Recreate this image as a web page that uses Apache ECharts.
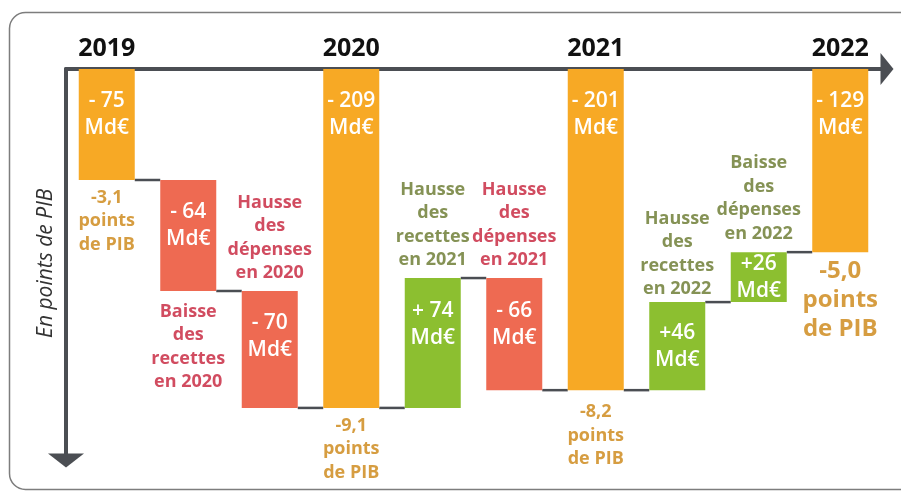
<!DOCTYPE html>
<html>
<head>
<meta charset="utf-8">
<script src="https://cdn.jsdelivr.net/npm/echarts@6/dist/echarts.min.js"></script>
<style>
  html, body { margin: 0; padding: 0; background: #fff; }
  #chart { width: 901px; height: 493px; }
</style>
</head>
<body>
<div id="chart"></div>
<script>
// x axis ticks (only the yearly totals carry a year)
const years = ['2019', '', '', '2020', '', '', '2021', '', '', '2022'];
// kind of each step
const kinds = ['total', 'red', 'red', 'total', 'green', 'red', 'total', 'green', 'green', 'total'];
// depth below the axis after each step, in points de PIB (as drawn)
const levels = [3.0, 6.0, 9.16, 9.16, 5.65, 8.68, 8.68, 6.30, 4.95, 4.95];
// amounts written inside the bars (Md€)
const amounts = ['- 75', '- 64', '- 70', '- 209', '+ 74', '- 66', '- 201', '+46', '+26', '- 129'];
// texts around the bars
const notes = [
  '-3,1\npoints\nde PIB',
  'Baisse\ndes\nrecettes\nen 2020',
  'Hausse\ndes\ndépenses\nen 2020',
  '-9,1\npoints\nde PIB',
  'Hausse\ndes\nrecettes\nen 2021',
  'Hausse\ndes\ndépenses\nen 2021',
  '-8,2\npoints\nde PIB',
  'Hausse\ndes\nrecettes\nen 2022',
  'Baisse\ndes\ndépenses\nen 2022',
  '-5,0\npoints\nde PIB'
];

// styling
const noteSide = ['below', 'below', 'above', 'below', 'above', 'above', 'below', 'above', 'above', 'below'];
const noteGap = [6, 9, 6, 6, 6, 6, 10, 1, 7, 5];
const innerPos = ['insideTop', 'insideTop', 'insideTop', 'insideTop', 'insideTop', 'insideTop', 'insideTop', 'inside', 'inside', 'insideTop'];
const barColor = { total: '#f7a925', red: '#ee6a52', green: '#8cbf30' };
const noteColor = { total: '#cc8412', red: '#c61f38', green: '#66772a' };
const axisColor = '#4b4e53';
const FONT = '"Open Sans", "DejaVu Sans", sans-serif';
const BAR_W = 56;

const tops = [], bottoms = [];
levels.forEach(function (lv, i) {
  if (kinds[i] === 'total') {
    tops.push(0);
    bottoms.push(lv);
  } else {
    tops.push(Math.min(levels[i - 1], lv));
    bottoms.push(Math.max(levels[i - 1], lv));
  }
});

const chart = echarts.init(document.getElementById('chart'), null, { renderer: 'canvas' });

const option = {
  animation: false,
  backgroundColor: '#fff',
  textStyle: { fontFamily: FONT },
  graphic: [{
    type: 'rect',
    silent: true,
    shape: { x: 9.5, y: 12.5, width: 930, height: 477, r: 16 },
    style: { fill: 'none', stroke: '#7d7d7d', lineWidth: 1.5 }
  }],
  grid: { left: 66, top: 69, right: 20, bottom: 35.5 },
  xAxis: {
    type: 'category',
    data: years,
    position: 'top',
    axisLine: {
      onZero: false,
      lineStyle: { color: axisColor, width: 4 },
      symbol: ['none', 'triangle'],
      symbolSize: [32, 13],
      symbolOffset: [0, 6]
    },
    axisTick: { show: false },
    axisLabel: {
      interval: 0,
      margin: 8,
      color: '#111',
      fontSize: 25,
      fontWeight: 'bold',
      fontFamily: FONT
    }
  },
  yAxis: {
    type: 'value',
    min: -10.5,
    max: 0,
    name: 'En points de PIB',
    nameLocation: 'middle',
    nameRotate: 90,
    nameGap: 9,
    nameTextStyle: { fontSize: 21, fontStyle: 'italic', color: '#333', fontFamily: FONT },
    axisLine: {
      show: true,
      lineStyle: { color: axisColor, width: 4 },
      symbol: ['triangle', 'none'],
      symbolSize: [36, 14],
      symbolOffset: [-3, 0]
    },
    axisTick: { show: false },
    axisLabel: { show: false },
    splitLine: { show: false }
  },
  series: [
    {
      name: 'base',
      type: 'bar',
      stack: 'w',
      barWidth: BAR_W,
      silent: true,
      itemStyle: { color: 'transparent' },
      data: tops.map(function (t) { return -t; })
    },
    {
      name: 'Md€',
      type: 'bar',
      stack: 'w',
      barWidth: BAR_W,
      data: bottoms.map(function (b, i) {
        return {
          value: -(b - tops[i]),
          itemStyle: { color: barColor[kinds[i]] },
          label: {
            show: true,
            position: innerPos[i],
            distance: 19,
            formatter: amounts[i] + '\nMd€',
            color: '#fff',
            fontSize: 21,
            lineHeight: 27,
            fontWeight: 600,
            fontFamily: FONT
          }
        };
      })
    },
    {
      name: 'liaisons',
      type: 'custom',
      silent: true,
      data: levels.slice(0, -1).map(function (lv, i) { return [i, -lv]; }),
      renderItem: function (params, api) {
        const p = api.coord([api.value(0), api.value(1)]);
        const band = api.size([1, 0])[0];
        return {
          type: 'line',
          shape: { x1: p[0] + BAR_W / 2, y1: p[1], x2: p[0] + band - BAR_W / 2, y2: p[1] },
          style: { stroke: axisColor, lineWidth: 2.5 }
        };
      }
    },
    {
      name: 'notes',
      type: 'scatter',
      symbolSize: 0,
      silent: true,
      data: notes.map(function (txt, i) {
        const below = noteSide[i] === 'below';
        const big = i === notes.length - 1;
        return {
          value: [i, below ? -bottoms[i] : -tops[i]],
          label: {
            show: true,
            position: below ? 'bottom' : 'top',
            distance: noteGap[i],
            formatter: txt,
            color: noteColor[kinds[i]],
            fontSize: big ? 24 : 18,
            lineHeight: big ? 29 : 23.5,
            fontWeight: 'bold',
            align: 'center',
            fontFamily: FONT
          }
        };
      })
    }
  ]
};

chart.setOption(option);
</script>
</body>
</html>
